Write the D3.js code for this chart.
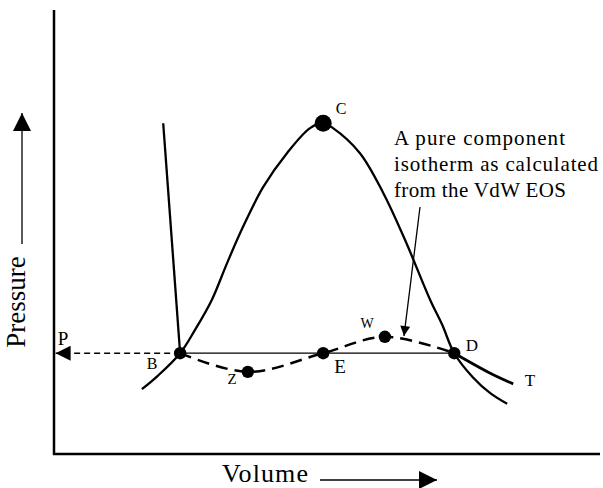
<!DOCTYPE html>
<html><head><meta charset="utf-8">
<script src="https://cdn.jsdelivr.net/npm/d3@7"></script>
<style>html,body{margin:0;padding:0;background:#fff;}svg{display:block;font-family:"Liberation Serif","Times New Roman",serif;}</style>
</head><body>
<script>
// Data (arbitrary volume/pressure units)
const envelopeV = [16.1,19.0,23.1,25.8,28.9,31.7,34.6,38.3,42.7,46.9,49.3,51.1,56.0,60.3,64.3,68.9,71.1,73.3,76.7,79.9,83.0];
const envelopeP = [14.6,17.6,22.7,27.9,34.7,43.0,51.1,60.1,67.8,73.4,74.5,73.4,67.8,58.8,48.2,34.7,29.1,22.7,17.3,13.7,11.3];
const liquidV = [20.0,23.1];
const liquidP = [74.5,22.7];
const isothermV = [23.1,35.5,49.3,60.6,73.3];
const isothermP = [22.7,18.5,22.7,26.4,22.7];
const tailV = [73.3,79.9,84.1];
const tailP = [22.7,18.2,15.8];
const pointNames = ["B","Z","E","W","D","C"];
const pointV = [23.1,35.5,49.3,60.6,73.3,49.3];
const pointP = [22.7,18.5,22.7,26.4,22.7,74.5];
const vaporP = 22.7;
const annotationLines = ["A pure component","isotherm as calculated","from the VdW EOS"];

const W = 603, H = 488;
const x = d3.scaleLinear().domain([0,100]).range([54,600]);
const y = d3.scaleLinear().domain([0,100]).range([454,10]);

const svg = d3.select("body").append("svg").attr("width",W).attr("height",H);
const defs = svg.append("defs");
function marker(id,w,h){
  defs.append("marker").attr("id",id).attr("viewBox","0 0 10 10").attr("refX",10).attr("refY",5)
    .attr("markerWidth",w).attr("markerHeight",h).attr("markerUnits","userSpaceOnUse").attr("orient","auto")
    .append("path").attr("d","M0,0L10,5L0,10Z").attr("fill","#000");
}
marker("ahBig",18,18);
marker("ahP",17,15);
marker("ahAnn",11,10);

// axes (frame)
svg.append("line").attr("x1",x(0)).attr("x2",x(0)).attr("y1",y(100)).attr("y2",y(0)+1).attr("stroke","#000").attr("stroke-width",2.5);
svg.append("line").attr("x1",x(0)-1).attr("x2",x(100)).attr("y1",y(0)).attr("y2",y(0)).attr("stroke","#000").attr("stroke-width",2.5);

// axis titles with arrows
svg.append("text").attr("transform","translate(25,302) rotate(-90)").attr("text-anchor","middle")
  .attr("font-size",27).text("Pressure");
svg.append("line").attr("x1",22).attr("x2",22).attr("y1",244).attr("y2",113).attr("stroke","#000").attr("stroke-width",1.3).attr("marker-end","url(#ahBig)");
svg.append("text").attr("x",222).attr("y",482).attr("font-size",26).attr("textLength",86).text("Volume");
svg.append("line").attr("x1",320).attr("x2",437).attr("y1",480).attr("y2",480).attr("stroke","#000").attr("stroke-width",1.3).attr("marker-end","url(#ahBig)");

const line = d3.line().x(d=>x(d[0])).y(d=>y(d[1]));
const zip = (a,b)=>a.map((v,i)=>[v,b[i]]);

// envelope
svg.append("path").datum(zip(envelopeV,envelopeP)).attr("d",line.curve(d3.curveCatmullRom.alpha(0.5)))
  .attr("fill","none").attr("stroke","#000").attr("stroke-width",2.3);
// liquid branch
svg.append("path").datum(zip(liquidV,liquidP)).attr("d",d3.line().x(d=>x(d[0])).y(d=>y(d[1])))
  .attr("fill","none").attr("stroke","#000").attr("stroke-width",2.3);
// tie line
svg.append("line").attr("x1",x(isothermV[0])).attr("x2",x(isothermV[4])).attr("y1",y(vaporP)).attr("y2",y(vaporP))
  .attr("stroke","#000").attr("stroke-width",1.2);
// P dashed arrow
svg.append("line").attr("x1",x(isothermV[0])).attr("x2",x(0.3)).attr("y1",y(vaporP)).attr("y2",y(vaporP))
  .attr("stroke","#000").attr("stroke-width",1.5).attr("stroke-dasharray","6,4").attr("marker-end","url(#ahP)");
// VdW isotherm dashed
svg.append("path").datum(zip(isothermV,isothermP)).attr("d",d3.line().x(d=>x(d[0])).y(d=>y(d[1])).curve(d3.curveCatmullRom.alpha(0.5)))
  .attr("fill","none").attr("stroke","#000").attr("stroke-width",2.5).attr("stroke-dasharray","12,7");
// tail to T
svg.append("path").datum(zip(tailV,tailP)).attr("d",d3.line().x(d=>x(d[0])).y(d=>y(d[1])).curve(d3.curveCatmullRom.alpha(0.5)))
  .attr("fill","none").attr("stroke","#000").attr("stroke-width",2.8);

// points
svg.selectAll("circle.pt").data(pointNames.map((n,i)=>({n,v:pointV[i],p:pointP[i]}))).join("circle")
  .attr("cx",d=>x(d.v)).attr("cy",d=>y(d.p)).attr("r",d=>d.n==="C"?8.5:6.2).attr("fill","#000");

// labels
const labels = [
  {t:"B",x:152,y:369,s:16},{t:"Z",x:232,y:384,s:15},{t:"E",x:340,y:373,s:19},
  {t:"W",x:367,y:328,s:14},{t:"D",x:472,y:351,s:17},{t:"C",x:341,y:114,s:16},
  {t:"T",x:530,y:386,s:17},{t:"P",x:63,y:345,s:19}];
svg.selectAll("text.lbl").data(labels).join("text").attr("class","lbl")
  .attr("x",d=>d.x).attr("y",d=>d.y).attr("text-anchor","middle").attr("font-size",d=>d.s).text(d=>d.t);

// annotation
const ann = svg.append("text").attr("font-size",21);
const annW = [171,204,172];
annotationLines.forEach((t,i)=>{
  ann.append("tspan").attr("x",394).attr("y",145+i*26).attr("textLength",annW[i]).text(t);
});
svg.append("line").attr("x1",420).attr("y1",207).attr("x2",404).attr("y2",336)
  .attr("stroke","#000").attr("stroke-width",1.3).attr("marker-end","url(#ahAnn)");
</script>
</body></html>
